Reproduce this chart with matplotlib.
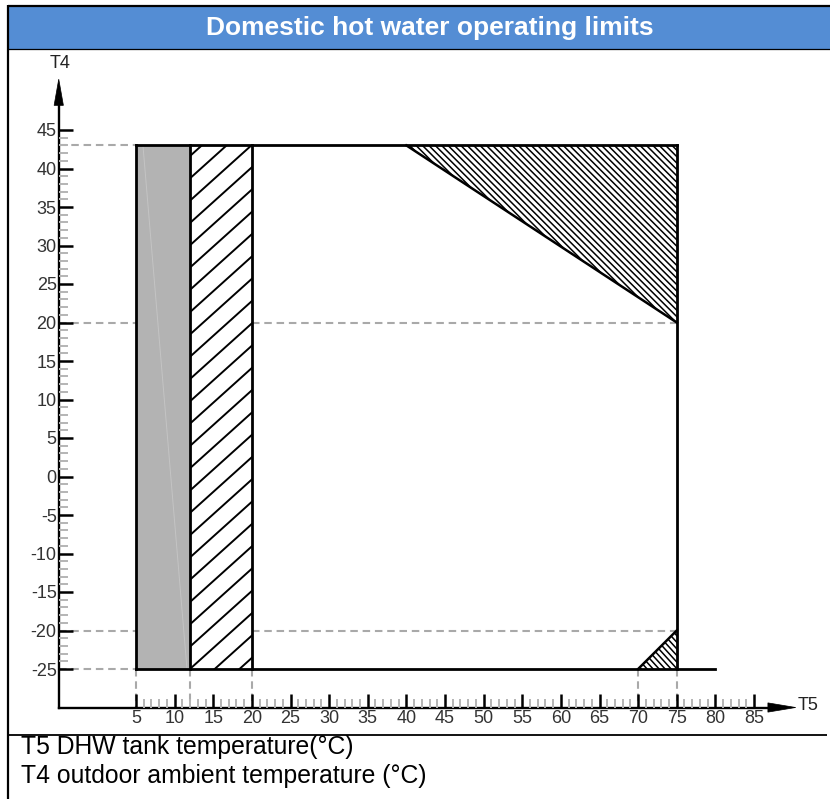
import numpy as np
import matplotlib
matplotlib.use("Agg")
import matplotlib.pyplot as plt
from matplotlib.patches import Polygon, Rectangle
from matplotlib.collections import LineCollection
from matplotlib.lines import Line2D

plt.rcParams['font.family'] = ['Liberation Sans', 'DejaVu Sans']
plt.rcParams['axes.unicode_minus'] = False

# ---- chart content -------------------------------------------------------
title = "Domestic hot water operating limits"
x_name, y_name = "T5", "T4"
notes = ["T5 DHW tank temperature(\u00b0C)",
         "T4 outdoor ambient temperature (\u00b0C)"]

x_major = list(range(5, 90, 5))          # T5 tick values
y_major = list(range(-25, 50, 5))        # T4 tick values

t5_min, t5_gray, t5_hatch, t5_max, t5_floor_end = 5, 12, 20, 75, 80
t4_min, t4_max = -25, 43

# limit triangles (T5, T4)
top_corner = [(40, 43), (75, 43), (75, 20)]
bottom_corner = [(70, -25), (75, -25), (75, -20)]

# dashed guide lines
guide_h_left = [43, 20, -20, -25]        # from the T4 axis to T5 = 5
guide_h_right = [20, -20]                # from T5 = 20 to T5 = 75
guide_v = [5, 12, 20, 70, 75]            # from T4 = -25 down to the T5 axis

# ---- figure geometry (pixels) ---------------------------------------------
W, H = 830, 799
XLIM, YLIM = (-5, 92), (-30, 55)
SX, SY = 7.725, 7.7                      # pixels per degree
X_LEFT_PX = 136 - (5 - XLIM[0]) * SX
X_RIGHT_PX = 136 + (XLIM[1] - 5) * SX
Y_BOT_PX = 130 + (45 - YLIM[0]) * SY
Y_TOP_PX = 130 - (YLIM[1] - 45) * SY

fig = plt.figure(figsize=(W / 100, H / 100), dpi=100)
fig.patch.set_facecolor('white')


def fx(px):
    return px / W


def fy(py):
    return 1 - py / H


# frame, title band and separators
fig.add_artist(Rectangle((fx(9), fy(48.5)), fx(830) - fx(9), fy(6.5) - fy(48.5),
                         transform=fig.transFigure, facecolor='#548dd4',
                         edgecolor='none', zorder=0))
for (x0, y0, x1, y1, lw) in [(8, 5.5, 830, 5.5, 1.6), (8, 5, 8, 799, 1.6),
                             (8, 49, 830, 49, 0.9), (8, 735, 827, 735, 1.3)]:
    fig.add_artist(Line2D([fx(x0), fx(x1)], [fy(y0), fy(y1)],
                          transform=fig.transFigure, color='black', lw=lw,
                          solid_capstyle='butt'))
fig.text(fx(430), fy(27.5), title, color='white', fontsize=19,
         fontweight='bold', ha='center', va='center')
for txt, base in zip(notes, [754, 783]):
    fig.text(fx(21), fy(base), txt, color='black', fontsize=17.8,
             ha='left', va='baseline')

# ---- axes -----------------------------------------------------------------
ax = fig.add_axes([fx(X_LEFT_PX), fy(Y_BOT_PX),
                   fx(X_RIGHT_PX) - fx(X_LEFT_PX), fy(Y_TOP_PX) - fy(Y_BOT_PX)])
ax.set_xlim(*XLIM)
ax.set_ylim(*YLIM)
ax.patch.set_alpha(0)
ax.set_axisbelow(False)

for s in ('top', 'right'):
    ax.spines[s].set_visible(False)
ax.spines['left'].set_bounds(YLIM[0], 48.4)
ax.spines['bottom'].set_bounds(XLIM[0], 87.0)
for s in ('left', 'bottom'):
    ax.spines[s].set_linewidth(1.7)
    ax.spines[s].set_color('black')
    ax.spines[s].set_zorder(2)

ax.set_xticks(x_major)
ax.set_yticks(y_major)
ax.set_xticks(np.arange(x_major[0], x_major[-1] + 1), minor=True)
ax.set_yticks(np.arange(y_major[0], y_major[-1] + 1), minor=True)
ax.tick_params(which='major', direction='in', length=10, width=1.8,
               color='black', labelsize=13, labelcolor='#333333')
ax.tick_params(axis='y', which='major', pad=1.5)
ax.tick_params(axis='x', which='major', pad=1.5)
ax.tick_params(which='minor', direction='in', length=6.5, width=1.4,
               color='#b4b4b4')

# arrow heads
ax.add_patch(Polygon([(XLIM[0], 51.6), (XLIM[0] - 0.6, 48.2), (XLIM[0] + 0.6, 48.2)],
                     closed=True, facecolor='black', edgecolor='black', lw=0.5,
                     zorder=3, clip_on=False))
ax.add_patch(Polygon([(90.4, YLIM[0]), (86.8, YLIM[0] + 0.6), (86.8, YLIM[0] - 0.6)],
                     closed=True, facecolor='black', edgecolor='black', lw=0.5,
                     zorder=3, clip_on=False))
ax.text(XLIM[0] + 0.15, 53.6, y_name, fontsize=13, color='#222222',
        ha='center', va='center')
ax.text(90.6, YLIM[0] + 0.3, x_name, fontsize=13, color='#222222',
        ha='left', va='center')

# dashed guide lines
gkw = dict(color='#a9a9a9', lw=1.5, dashes=(3.6, 2.3), zorder=1)
for v in guide_h_left:
    ax.plot([XLIM[0], t5_min], [v, v], **gkw)
for v in guide_h_right:
    ax.plot([t5_hatch, t5_max], [v, v], **gkw)
for v in guide_v:
    ax.plot([v, v], [t4_min, YLIM[0]], **gkw)

# grey zone
ax.add_patch(Rectangle((t5_min, t4_min), t5_gray - t5_min, t4_max - t4_min,
                       facecolor='#b3b3b3', edgecolor='none', zorder=1.2))
ax.plot([5.9, 11.6], [t4_max, t4_min], color='#c4c4c4', lw=0.7, zorder=1.3)


def hatch(verts, slope_px, spacing_px, lw):
    """Fill a polygon with straight hatch lines of a given screen slope."""
    poly = Polygon(verts, closed=True, fill=False, edgecolor='none')
    ax.add_patch(poly)
    m = slope_px * SX / SY
    v = np.asarray(verts, float)
    c = v[:, 1] - m * v[:, 0]
    step = spacing_px / SY
    xs = (v[:, 0].min() - 1, v[:, 0].max() + 1)
    segs = [[(xs[0], m * xs[0] + ci), (xs[1], m * xs[1] + ci)]
            for ci in np.arange(c.min() + step / 2, c.max(), step)]
    lc = LineCollection(segs, colors='black', linewidths=lw, zorder=1.5)
    lc.set_clip_path(poly)
    ax.add_collection(lc)


hatch([(t5_gray, t4_min), (t5_hatch, t4_min), (t5_hatch, t4_max), (t5_gray, t4_max)],
      0.9, 22.3, 1.4)
hatch(top_corner, -1.0, 6.4, 1.1)
hatch(bottom_corner, -1.1, 6.6, 1.1)

# limit outline
okw = dict(color='black', lw=2.0, zorder=2, solid_capstyle='projecting')
ax.plot([t5_min, t5_max], [t4_max, t4_max], **okw)
ax.plot([t5_min, t5_floor_end], [t4_min, t4_min], **okw)
for v in (t5_min, t5_gray, t5_hatch, t5_max):
    ax.plot([v, v], [t4_min, t4_max], **okw)
ax.plot([p[0] for p in top_corner[::2]], [p[1] for p in top_corner[::2]],
        color='black', lw=1.8, zorder=2)
ax.plot([p[0] for p in bottom_corner[::2]], [p[1] for p in bottom_corner[::2]],
        color='black', lw=1.8, zorder=2)

fig.savefig('out.png', dpi=100)
